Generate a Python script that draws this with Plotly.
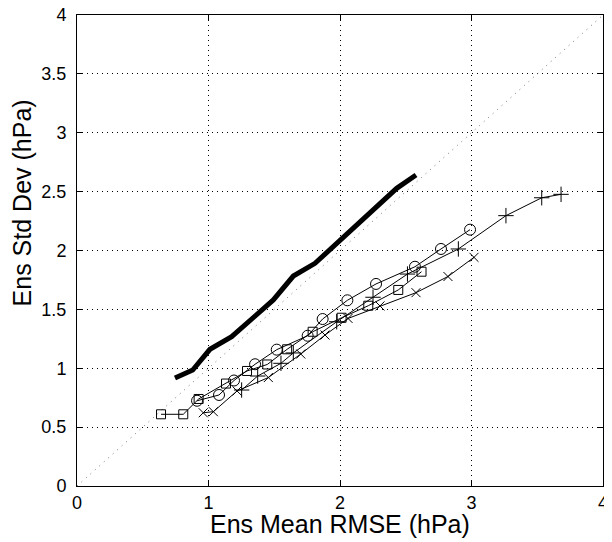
import plotly.graph_objects as go

# Thick line (no markers)
thick_x = [0.745, 0.880, 1.011, 1.176, 1.493, 1.645, 1.810, 2.228, 2.431, 2.578]
thick_y = [0.917, 0.985, 1.161, 1.268, 1.580, 1.783, 1.891, 2.316, 2.528, 2.641]

# Circle series
circ_x = [0.913, 1.080, 1.194, 1.354, 1.519, 1.754, 1.868, 2.056, 2.274, 2.570, 2.768, 2.989]
circ_y = [0.724, 0.773, 0.896, 1.034, 1.158, 1.276, 1.418, 1.577, 1.716, 1.862, 2.013, 2.177]

# Square series
sq_x = [0.639, 0.808, 0.925, 1.133, 1.293, 1.447, 1.598, 1.792, 2.012, 2.215, 2.443, 2.620]
sq_y = [0.609, 0.609, 0.739, 0.870, 0.977, 1.032, 1.161, 1.310, 1.429, 1.531, 1.665, 1.820]

# Cross (x) series
xm_x = [0.960, 1.037, 1.217, 1.455, 1.702, 1.886, 2.061, 2.304, 2.578, 2.821, 3.019]
xm_y = [0.622, 0.631, 0.807, 0.921, 1.121, 1.282, 1.423, 1.529, 1.642, 1.779, 1.942]

# Plus (+) series
pl_x = [1.252, 1.374, 1.551, 1.645, 1.975, 2.251, 2.513, 2.900, 3.262, 3.534, 3.681]
pl_y = [0.815, 0.934, 1.042, 1.130, 1.395, 1.603, 1.800, 2.013, 2.296, 2.448, 2.477]

diag = [0, 4]
x_ticks = [0, 1, 2, 3, 4]
y_ticks = [0, 0.5, 1, 1.5, 2, 2.5, 3, 3.5, 4]
y_tick_text = ["0", "0.5", "1", "1.5", "2", "2.5", "3", "3.5", "4"]
x_title = "Ens Mean RMSE (hPa)"
y_title = "Ens Std Dev (hPa)"

FONT = "Liberation Sans, Arial"

fig = go.Figure()
fig.add_trace(go.Scatter(x=diag, y=diag, mode="lines",
                         line=dict(color="#777777", width=1, dash="1px,5px"), showlegend=False))
fig.add_trace(go.Scatter(x=thick_x, y=thick_y, mode="lines",
                         line=dict(color="black", width=5), showlegend=False))
fig.add_trace(go.Scatter(x=sq_x, y=sq_y, mode="lines+markers",
                         line=dict(color="black", width=1),
                         marker=dict(symbol="square-open", size=9, color="black", line=dict(width=1)),
                         showlegend=False))
fig.add_trace(go.Scatter(x=circ_x, y=circ_y, mode="lines+markers",
                         line=dict(color="black", width=1),
                         marker=dict(symbol="circle-open", size=11, color="black", line=dict(width=1)),
                         showlegend=False))
fig.add_trace(go.Scatter(x=xm_x, y=xm_y, mode="lines+markers",
                         line=dict(color="black", width=1),
                         marker=dict(symbol="x-thin-open", size=9, color="black", line=dict(width=1)),
                         showlegend=False))
fig.add_trace(go.Scatter(x=pl_x, y=pl_y, mode="lines+markers",
                         line=dict(color="black", width=1),
                         marker=dict(symbol="cross-thin-open", size=11, color="black", line=dict(width=1)),
                         showlegend=False))

axis_common = dict(showline=True, linecolor="black", linewidth=1, mirror="ticks",
                   ticks="inside", ticklen=5, tickcolor="black", automargin=False,
                   ticklabeloverflow="allow",
                   showgrid=True, gridcolor="black", gridwidth=1, griddash="1px,4px",
                   zeroline=False, tickfont=dict(family=FONT, size=18, color="black"))

fig.update_xaxes(range=[0, 4], tickvals=x_ticks, **axis_common)
fig.update_yaxes(range=[0, 4], tickvals=y_ticks, ticktext=y_tick_text,
                 ticklabelstandoff=6, **axis_common)

fig.add_annotation(text=x_title, xref="paper", yref="paper", x=0.5, y=0,
                   xanchor="center", yanchor="top", yshift=-22, showarrow=False,
                   font=dict(family=FONT, size=25, color="black"))
fig.add_annotation(text=y_title, xref="paper", yref="paper", x=0, y=0.6,
                   xanchor="center", yanchor="middle", xshift=-55, textangle=-90,
                   showarrow=False, font=dict(family=FONT, size=25, color="black"))

# page body has an 8px default margin; compensate so plot area lands at 77..603 x 15..486
fig.update_layout(width=604, height=534, plot_bgcolor="white", paper_bgcolor="white",
                  margin=dict(l=69, r=9, t=7, b=56))

fig.write_html("out.html")
